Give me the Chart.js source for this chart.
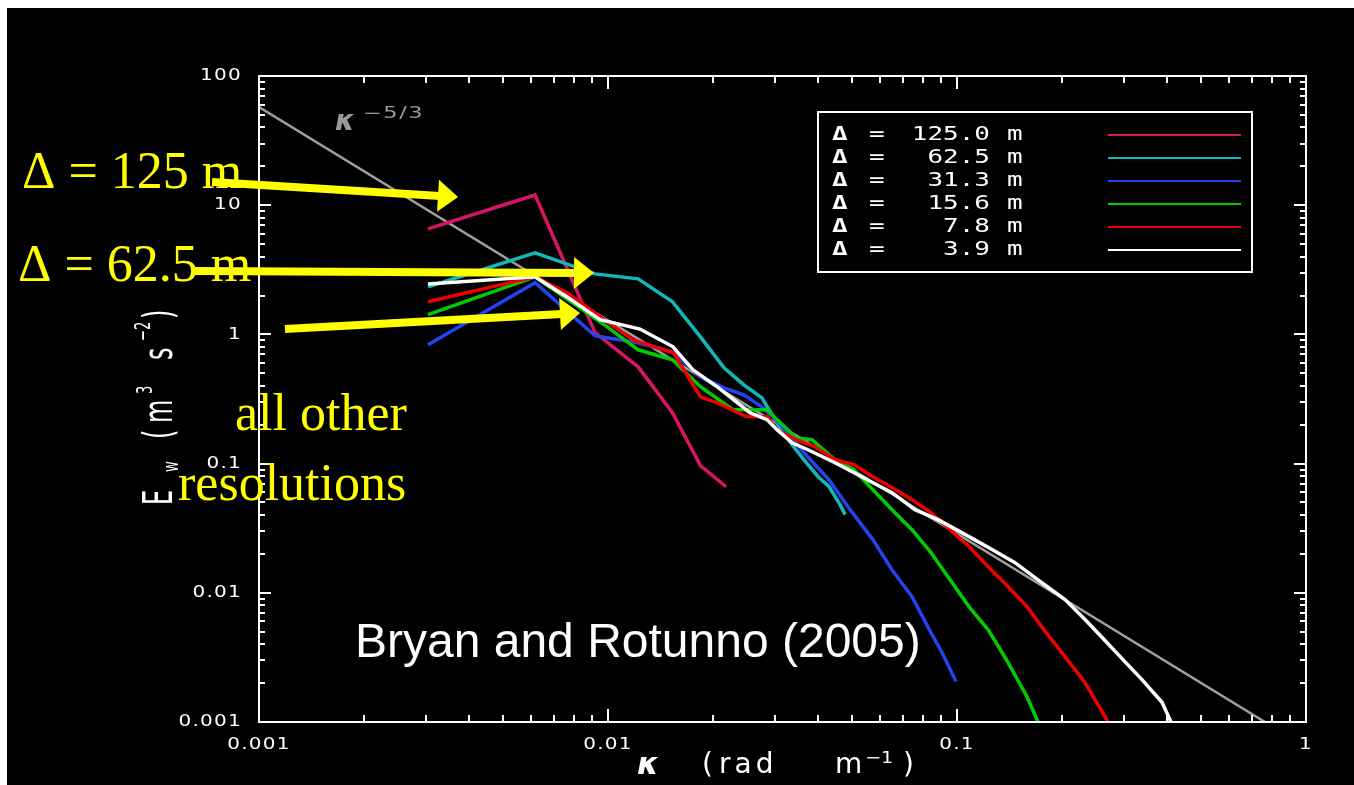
<!DOCTYPE html>
<html>
<head>
<meta charset="utf-8">
<script src="https://cdn.jsdelivr.net/npm/chart.js@4.4.0/dist/chart.umd.min.js"></script>
<style>
    html, body { margin: 0; padding: 0; background: #fff; overflow: hidden; }
    #spectra { position: absolute; left: 0; top: 0; }
</style>
</head>
<body>
<canvas id="spectra" width="1354" height="785"></canvas>
<script>
/*DATA*/
// wavenumber (rad/m) and spectral energy E_w (m^3 s^-2), one pair per grid spacing
const kappa125 = [0.00305, 0.00618, 0.00918, 0.0122, 0.0153, 0.0184, 0.0218];
const ew125 = [6.56, 12.0, 1.03, 0.561, 0.248, 0.0964, 0.0662];

const kappa62 = [0.00305, 0.00618, 0.00918, 0.0122, 0.0153, 0.0184, 0.0215, 0.0245, 0.0276, 0.0307, 0.0337, 0.0368, 0.0400, 0.0430, 0.0462, 0.0478];
const ew62 = [2.33, 4.28, 2.94, 2.69, 1.79, 0.957, 0.552, 0.407, 0.323, 0.200, 0.140, 0.1035, 0.0792, 0.0662, 0.0481, 0.0403];

const kappa31 = [0.00305, 0.00618, 0.00918, 0.0122, 0.0153, 0.0184, 0.0215, 0.0245, 0.0276, 0.0307, 0.0369, 0.0430, 0.0494, 0.0574, 0.0651, 0.0743, 0.0842, 0.0906, 0.0993];
const ew31 = [0.831, 2.51, 0.975, 0.861, 0.733, 0.470, 0.386, 0.341, 0.275, 0.211, 0.117, 0.075, 0.044, 0.0258, 0.0151, 0.00935, 0.00492, 0.00345, 0.00206];

const kappa15 = [0.00305, 0.00618, 0.00993, 0.0122, 0.0153, 0.0184, 0.0228, 0.0286, 0.0305, 0.0346, 0.0384, 0.0447, 0.0507, 0.0574, 0.0651, 0.0743, 0.0842, 0.0955, 0.1082, 0.1227, 0.1400, 0.1587, 0.1707];
const ew15 = [1.42, 2.79, 1.15, 0.760, 0.637, 0.394, 0.261, 0.261, 0.219, 0.158, 0.153, 0.107, 0.0897, 0.0628, 0.044, 0.0308, 0.0205, 0.0126, 0.00782, 0.00519, 0.00289, 0.00157, 0.001];

const kappa7 = [0.00305, 0.00618, 0.00763, 0.00949, 0.0118, 0.0154, 0.0184, 0.0205, 0.0249, 0.0286, 0.0305, 0.0346, 0.0392, 0.0447, 0.0507, 0.0574, 0.0651, 0.0743, 0.0842, 0.0955, 0.1082, 0.1227, 0.1400, 0.1587, 0.1799, 0.2039, 0.2327, 0.2708];
const ew7 = [1.79, 2.79, 2.10, 1.37, 0.908, 0.721, 0.329, 0.296, 0.231, 0.231, 0.183, 0.153, 0.135, 0.107, 0.098, 0.0792, 0.0652, 0.0526, 0.0417, 0.0308, 0.0228, 0.0160, 0.0112, 0.00782, 0.00492, 0.00321, 0.00202, 0.001];

const kappa3 = [0.00305, 0.00618, 0.00763, 0.00949, 0.01235, 0.01536, 0.01752, 0.02053, 0.02552, 0.02855, 0.0305, 0.03367, 0.03742, 0.04472, 0.05068, 0.05744, 0.06513, 0.07579, 0.08822, 0.1082, 0.1260, 0.1466, 0.1707, 0.2039, 0.2327, 0.2638, 0.2989, 0.3389, 0.3867, 0.4104];
const ew3 = [2.46, 2.79, 1.95, 1.30, 1.10, 0.802, 0.532, 0.394, 0.248, 0.219, 0.183, 0.145, 0.128, 0.1016, 0.0851, 0.0711, 0.0596, 0.044, 0.0368, 0.0272, 0.0216, 0.0171, 0.0126, 0.00886, 0.00621, 0.00435, 0.00304, 0.00213, 0.00142, 0.001];

// kappa^-5/3 reference line, end points
const kappaRef = [0.001, 0.763];
const ewRef = [57.5, 0.001];

const resolutions = ["125.0", "62.5", "31.3", "15.6", "7.8", "3.9"];
const xTickValues = [0.001, 0.01, 0.1, 1];
const xTickLabels = ["0.001", "0.01", "0.1", "1"];
const yTickValues = [0.001, 0.01, 0.1, 1, 10, 100];
const yTickLabels = ["0.001", "0.01", "0.1", "1", "10", "100"];

/*HELPERS*/
function pairs(xs, ys) {
    return xs.map((k, i) => ({ x: k, y: ys[i] }));
}

function txt(c, s, x, y, o) {
    c.save();
    c.font = o.font;
    c.fillStyle = o.color || "#fff";
    c.textAlign = o.align || "left";
    c.textBaseline = o.base || "alphabetic";
    c.translate(x, y);
    if (o.rot) c.rotate(o.rot);
    c.scale(o.sx || 1, 1);
    if (o.ls) c.letterSpacing = o.ls;
    c.fillText(s, 0, 0);
    c.restore();
}

function arrow(c, x1, y1, x2, y2) {
    const a = Math.atan2(y2 - y1, x2 - x1), hl = 20, hw = 16;
    const bx = x2 - hl * Math.cos(a), by = y2 - hl * Math.sin(a);
    c.save();
    c.strokeStyle = c.fillStyle = "#ffff00";
    c.lineWidth = 8;
    c.beginPath(); c.moveTo(x1, y1); c.lineTo(bx + 2 * Math.cos(a), by + 2 * Math.sin(a)); c.stroke();
    c.beginPath();
    c.moveTo(x2, y2);
    c.lineTo(bx - hw * Math.sin(a), by + hw * Math.cos(a));
    c.lineTo(bx + hw * Math.sin(a), by - hw * Math.cos(a));
    c.closePath(); c.fill();
    c.restore();
}

/*DECORATION*/
const idlFrame = {
    id: "idlFrame",
    beforeDraw(chart) {
        const c = chart.ctx;
        c.save();
        c.fillStyle = "#fff";
        c.fillRect(0, 0, chart.width, chart.height);
        c.fillStyle = "#000";
        c.fillRect(7, 8, chart.width - 7, chart.height - 8);
        c.restore();
    },
    afterDatasetsDraw(chart) {
        const c = chart.ctx;
        const xs = chart.scales.x, ys = chart.scales.y;
        const { left, right, top, bottom } = chart.chartArea;

        // box + inward ticks on all sides
        c.save();
        c.strokeStyle = "#fff";
        c.lineWidth = 2;
        c.strokeRect(left, top, right - left, bottom - top);
        c.beginPath();
        for (let d = -3; d < 0; d++) {
            for (let m = 1; m <= 9; m++) {
                const px = Math.round(xs.getPixelForValue(m * Math.pow(10, d)));
                const len = m === 1 ? 13 : 7;
                c.moveTo(px, bottom); c.lineTo(px, bottom - len);
                c.moveTo(px, top); c.lineTo(px, top + len);
            }
        }
        for (let d = -3; d < 2; d++) {
            for (let m = 1; m <= 9; m++) {
                const py = Math.round(ys.getPixelForValue(m * Math.pow(10, d)));
                const len = m === 1 ? 12 : 6;
                c.moveTo(left, py); c.lineTo(left + len, py);
                c.moveTo(right, py); c.lineTo(right - len, py);
            }
        }
        c.stroke();
        c.restore();

        // tick labels
        const tickFont = '16px "DejaVu Sans"';
        xTickValues.forEach((v, i) => {
            txt(c, xTickLabels[i], xs.getPixelForValue(v), 749, { font: tickFont, align: "center", sx: 1.25, ls: "1px" });
        });
        yTickValues.forEach((v, i) => {
            txt(c, yTickLabels[i], 242, ys.getPixelForValue(v), { font: tickFont, align: "right", base: "middle", sx: 1.25, ls: "1px" });
        });

        // x title: kappa (rad m^-1)
        const tf = '28px "DejaVu Sans"';
        txt(c, "\u03ba", 637, 774, { font: 'bold italic 31px "DejaVu Sans"' });
        txt(c, "(", 702, 773, { font: tf });
        txt(c, "rad", 719, 773, { font: tf, ls: "4px" });
        txt(c, "m", 835, 773, { font: tf });
        txt(c, "\u22121", 865, 763, { font: '16px "DejaVu Sans"', sx: 1.2 });
        txt(c, ")", 903, 773, { font: tf });

        // y title: E_w (m^3 s^-2), rotated
        c.save();
        c.translate(172, 505);
        c.rotate(-Math.PI / 2);
        const segs = [["E", 0, 0, 40], ["w", 33, 6, 22], ["(", 66, 0, 40], ["m", 82, 0, 40],
                      ["3", 111, -20, 22], ["s", 145, 0, 40], ["\u22122", 164, -22, 22], [")", 186, 0, 40]];
        for (const [s, u, v, size] of segs) {
            txt(c, s, u, v, { font: size + 'px "DejaVu Sans"', sx: 0.6 });
        }
        c.restore();

        // kappa^-5/3 label
        txt(c, "\u03ba", 335, 130, { font: 'bold italic 28px "DejaVu Sans"', color: "#9a9a9a" });
        txt(c, "\u22125/3", 363, 118, { font: '15px "DejaVu Sans"', color: "#9a9a9a", sx: 1.5, ls: "1px" });

        // legend box
        c.save();
        c.strokeStyle = "#fff";
        c.lineWidth = 2;
        c.strokeRect(818, 112, 434, 160);
        const lf = '20px "DejaVu Sans Mono"';
        chart.data.datasets.forEach((ds, i) => {
            if (ds.res === undefined) return;
            const y = 135 + i * 23;
            txt(c, "\u0394", 832, y, { font: 'bold ' + lf, base: "middle", sx: 1.3 });
            txt(c, "=", 869, y, { font: lf, base: "middle", sx: 1.3 });
            txt(c, ds.res, 990, y, { font: lf, base: "middle", align: "right", sx: 1.3 });
            txt(c, "m", 1007, y, { font: lf, base: "middle", sx: 1.3 });
            c.strokeStyle = ds.borderColor;
            c.lineWidth = 2;
            c.beginPath(); c.moveTo(1108, y); c.lineTo(1241, y); c.stroke();
        });
        c.restore();

        // credit
        txt(c, "Bryan and Rotunno (2005)", 355, 657, { font: '48px "Liberation Sans"' });

        // yellow annotations
        const yf = '52px "Liberation Serif"';
        txt(c, "\u0394 = 125 m", 22, 188, { font: yf, color: "#ffff00" });
        txt(c, "\u0394 = 62.5 m", 18, 281, { font: yf, color: "#ffff00" });
        txt(c, "all other", 235, 430, { font: yf, color: "#ffff00" });
        txt(c, "resolutions", 178, 500, { font: yf, color: "#ffff00" });
        arrow(c, 212, 182, 458, 197);
        arrow(c, 195, 271, 594, 273);
        arrow(c, 285, 329, 580, 313);
    }
};

/*CHART*/
const datasets = [
    { res: resolutions[0], data: pairs(kappa125, ew125), borderColor: "#d81466", order: 6 },
    { res: resolutions[1], data: pairs(kappa62, ew62), borderColor: "#12b8b8", order: 5 },
    { res: resolutions[2], data: pairs(kappa31, ew31), borderColor: "#2244f0", order: 4 },
    { res: resolutions[3], data: pairs(kappa15, ew15), borderColor: "#00cc00", order: 3 },
    { res: resolutions[4], data: pairs(kappa7, ew7), borderColor: "#ee0000", order: 2 },
    { res: resolutions[5], data: pairs(kappa3, ew3), borderColor: "#ffffff", order: 1 },
    { data: pairs(kappaRef, ewRef), borderColor: "#a0a0a0", borderWidth: 2.5, order: 7 }
];
for (const ds of datasets) {
    if (ds.res) ds.label = "\u0394 = " + ds.res + " m";
    ds.showLine = true;
    ds.pointRadius = 0;
    ds.borderWidth = ds.borderWidth || 3.5;
    ds.fill = false;
}

new Chart(document.getElementById("spectra"), {
    type: "scatter",
    data: { datasets: datasets },
    options: {
        responsive: false,
        animation: false,
        devicePixelRatio: 1,
        layout: { padding: { left: 259, top: 76, right: 48, bottom: 63 } },
        plugins: {
            legend: { display: false },
            tooltip: { enabled: false }
        },
        scales: {
            x: { type: "logarithmic", min: 0.001, max: 1, display: false },
            y: { type: "logarithmic", min: 0.001, max: 100, display: false }
        }
    },
    plugins: [idlFrame]
});
</script>
</body>
</html>
